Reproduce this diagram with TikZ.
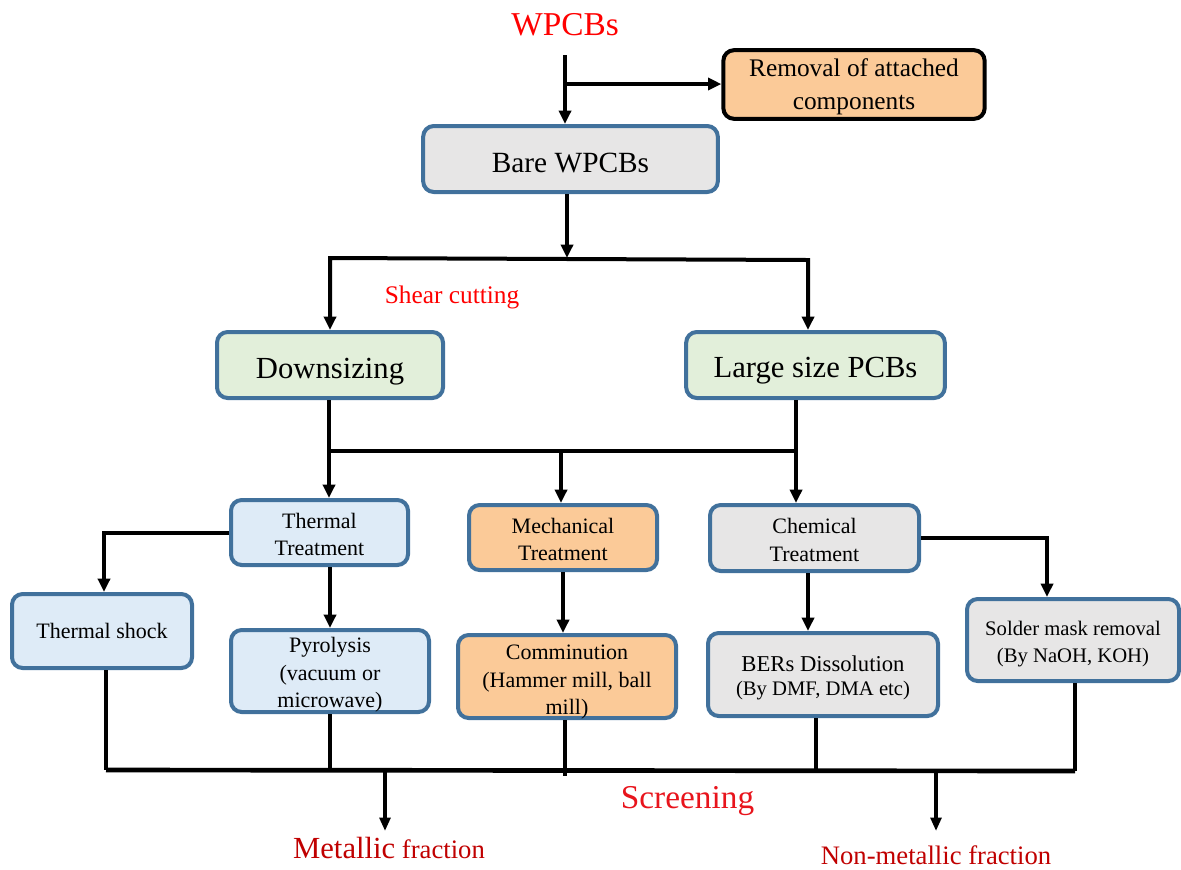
\documentclass[tikz,border=0pt]{standalone}
\usepackage{fontspec}
\setmainfont{Liberation Serif}
\usetikzlibrary{arrows.meta}
\definecolor{edgeblue}{HTML}{41719C}
\definecolor{fillgray}{HTML}{E7E6E6}
\definecolor{fillgreen}{HTML}{E2EFDA}
\definecolor{fillblue}{HTML}{DEEBF7}
\definecolor{fillorange}{HTML}{FBCA98}
\definecolor{redtxt}{HTML}{FF0000}
\definecolor{screenred}{HTML}{E8141C}
\definecolor{darkred}{HTML}{C00000}
% lower a line of text without changing the box it occupies
\newcommand{\lowerby}[2]{\raisebox{-#1}[\height][\depth]{#2}}
\begin{document}
\begin{tikzpicture}[x=0.75pt,y=-0.75pt,
  box/.style={draw=edgeblue,line width=3pt,rounded corners=8pt,align=center,inner sep=0pt},
  bigtxt/.style={font=\fontsize{23}{27}\selectfont},
  midtxt/.style={font=\fontsize{16.5}{20.6}\selectfont},
  smalltxt/.style={font=\fontsize{15.5}{20.6}\selectfont},
  link/.style={line width=3pt},
  arr/.style={line width=3pt,-{Triangle[length=10pt,width=9pt]}},
  biarr/.style={line width=3pt,{Triangle[length=10pt,width=9pt]}-{Triangle[length=10pt,width=9pt]}},
  thin/.style={line width=2.8pt},
  outarr/.style={line width=2.5pt,-{Triangle[length=10pt,width=8pt]}}]
\useasboundingbox (0,0) rectangle (1181,869);

% title and process boxes
\node[anchor=base,text=redtxt,font=\fontsize{25}{30}\selectfont] (wp) at (565,35) {WPCBs};
\node[box,draw=black,fill=fillorange,minimum width=196pt,minimum height=51.5pt,font=\fontsize{19}{24.5}\selectfont] (rem) at (854,84.5) {\lowerby{1.5pt}{Removal of attached}\\\lowerby{1.5pt}{components}};
\node[box,fill=fillgray,minimum width=221pt,minimum height=49.5pt,font=\fontsize{22}{26}\selectfont] (bare) at (570.5,159) {\lowerby{3pt}{Bare WPCBs}};
\node[box,fill=fillgreen,minimum width=169.5pt,minimum height=49.5pt,bigtxt] (down) at (330,365) {\lowerby{5pt}{Downsizing}};
\node[box,fill=fillgreen,minimum width=194pt,minimum height=49.5pt,bigtxt] (large) at (815.5,365) {\lowerby{4pt}{Large size PCBs}};
\node[anchor=base,text=redtxt,font=\fontsize{19}{23}\selectfont] (shear) at (452,303) {Shear cutting};

\node[box,fill=fillblue,minimum width=132.75pt,minimum height=48.75pt,midtxt] (therm) at (319.5,532.5) {\lowerby{1.5pt}{Thermal}\\\lowerby{1.5pt}{Treatment}};
\node[box,fill=fillorange,minimum width=141pt,minimum height=48.75pt,midtxt] (mech) at (563,537.5) {\lowerby{1.5pt}{Mechanical}\\\lowerby{1.5pt}{Treatment}};
\node[box,fill=fillgray,minimum width=156.75pt,minimum height=49.5pt,midtxt] (chem) at (814.5,538) {\lowerby{1.5pt}{Chemical}\\\lowerby{1.5pt}{Treatment}};

\node[box,fill=fillblue,minimum width=135pt,minimum height=55.5pt,midtxt] (shock) at (102,631) {Thermal shock};
\node[box,fill=fillblue,minimum width=148.5pt,minimum height=61.5pt,midtxt] (pyro) at (330,671) {\lowerby{3pt}{Pyrolysis}\\\lowerby{3pt}{(vacuum or}\\\lowerby{3pt}{microwave)}};
\node[box,fill=fillorange,minimum width=163.5pt,minimum height=62.25pt,midtxt] (comm) at (567,676.5) {\lowerby{4.5pt}{Comminution}\\\lowerby{4.5pt}{(Hammer mill, ball}\\\lowerby{4.5pt}{mill)}};
\node[box,fill=fillgray,minimum width=172.5pt,minimum height=62.25pt,align=center,inner sep=0pt] (bers) at (823,674.5) {\lowerby{2.5pt}{\fontsize{17}{21}\selectfont BERs Dissolution}\\[6pt]\lowerby{2.5pt}{\fontsize{15.5}{19}\selectfont (By DMF, DMA etc)}};
\node[box,fill=fillgray,minimum width=159pt,minimum height=61.5pt,smalltxt] (solder) at (1073,640) {\lowerby{3pt}{Solder mask removal}\\\lowerby{3pt}{(By NaOH, KOH)}};

% output labels
\node[anchor=base,text=screenred,font=\fontsize{25}{30}\selectfont] (screen) at (687.5,808) {Screening};
\node[anchor=base,text=darkred] (met) at (389,858) {{\fontsize{23}{27}\selectfont Metallic}\hspace{5pt}{\fontsize{20}{24}\selectfont fraction}};
\node[anchor=base,text=darkred,font=\fontsize{20}{24}\selectfont] (nonmet) at (936,864) {Non-metallic fraction};

% connector junctions
\coordinate (wtop) at (565,55);
\coordinate (wbr) at (565,84);
\coordinate (s1) at (567,258);
\coordinate (sl) at (330,258);
\coordinate (sr) at (808,260);
\coordinate (ml) at (329,451);
\coordinate (mr) at (796,451);
\coordinate (mm) at (561,453);
\coordinate (tl) at (104,532.5);
\coordinate (cb) at (808,600);
\coordinate (cr) at (1047,542);
\coordinate (bl) at (106,770);
\coordinate (br) at (1075,771);
\coordinate (cm) at (565,776);
\coordinate (bx) at (816,770);
\coordinate (mo) at (385,770);
\coordinate (moend) at (385,831);
\coordinate (no) at (936,772);
\coordinate (noend) at (936,831);

% top part
\draw[arr] (wtop) -- (wtop |- bare.north);
\draw[arr] (wbr) -- (wbr -| rem.west);
\draw[arr] (s1 |- bare.south) -- (s1);
\draw[biarr,line join=miter] (sl |- down.north) -- (sl) -- (sr) -- (sr |- large.north);

% second level
\draw[link,line join=miter] (ml |- down.south) -- (ml) -- (mr) -- (mr |- large.south);
\draw[arr] (ml) -- (ml |- therm.north);
\draw[arr] (mr) -- (mr |- chem.north);
\draw[arr] (mm) -- (mm |- mech.north);

% treatments to methods
\draw[arr,line join=miter] (therm.west) -- (tl) -- (tl |- shock.north);
\draw[arr] (therm.south -| pyro.north) -- (pyro.north);
\draw[arr] (mech.south) -- (mech.south |- comm.north);
\draw[arr] (cb |- chem.south) -- (cb |- bers.north);
\draw[arr,line join=miter] (chem.east) -- (chem.east -| cr) -- (cr |- solder.north);

% screening bus
\draw[thin] (bl |- shock.south) -- (bl);
\draw[thin] (br |- solder.south) -- (br);
\draw[line width=3.5pt] (bl) -- (br);
\draw[thin] (pyro.south) -- (pyro.south |- bl);
\draw[thin] (cm |- comm.south) -- (cm);
\draw[thin] (bx |- bers.south) -- (bx);
\draw[outarr] (mo) -- (moend);
\draw[outarr] (no) -- (noend);
\end{tikzpicture}
\end{document}
